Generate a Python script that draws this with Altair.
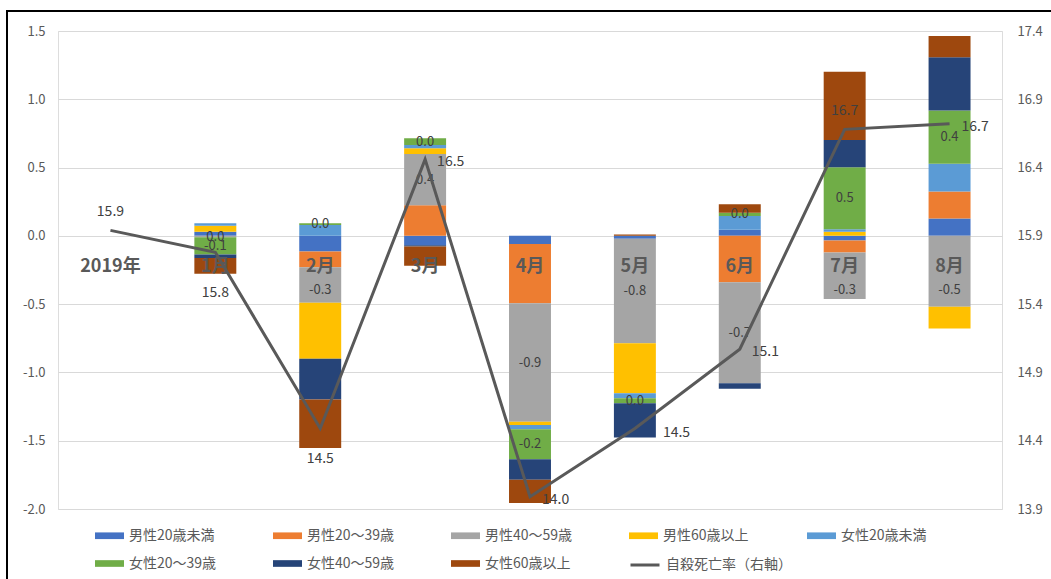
import altair as alt
import pandas as pd

# Categories
months = ["2019年", "1月", "2月", "3月", "4月", "5月", "6月", "7月", "8月"]
bar_months = months[1:]
series = ["男性20歳未満", "男性20～39歳", "男性40～59歳", "男性60歳以上",
          "女性20歳未満", "女性20～39歳", "女性40～59歳", "女性60歳以上"]
rate_name = "自殺死亡率（右軸）"
series_colors = ["#4472C4", "#ED7D31", "#A5A5A5", "#FFC000",
                 "#5B9BD5", "#70AD47", "#264478", "#9E480E"]
rate_color = "#595959"

# Contribution of each group to the change in the rate (Jan–Aug)
m_u20 = [0.03, -0.115, -0.068, -0.06, -0.022, 0.045, -0.034, 0.127]
m_20_39 = [0.0, -0.114, 0.225, -0.434, 0.0, -0.34, -0.088, 0.198]
m_40_59 = [-0.01, -0.26, 0.374, -0.867, -0.764, -0.74, -0.34, -0.52]
m_60 = [0.044, -0.41, 0.042, -0.024, -0.366, 0.0, 0.03, -0.159]
f_u20 = [0.018, 0.08, 0.024, -0.031, -0.037, 0.1, 0.018, 0.203]
f_20_39 = [-0.127, 0.012, 0.049, -0.22, -0.037, 0.024, 0.454, 0.39]
f_40_59 = [-0.025, -0.30, -0.01, -0.15, -0.25, -0.039, 0.2, 0.39]
f_60 = [-0.115, -0.355, -0.14, -0.17, 0.01, 0.062, 0.5, 0.156]
group_values = [m_u20, m_20_39, m_40_59, m_60, f_u20, f_20_39, f_40_59, f_60]

# Suicide rate (right axis)
rate = [15.94, 15.78, 14.49, 16.46, 13.99, 14.49, 15.07, 16.68, 16.72]
rate_label_side = ["above", "low", "below", "right", "right", "far", "right", "above", "right"]

labelled_series = [series[2], series[5]]

FONT = "Noto Sans CJK JP"
TEXT = "#404040"

bars_df = pd.DataFrame(
    [
        {"month": m, "series": s, "order": i, "change": vals[j]}
        for i, (s, vals) in enumerate(zip(series, group_values))
        for j, m in enumerate(bar_months)
    ]
)
rate_df = pd.DataFrame({"month": months, "rate": rate, "side": rate_label_side,
                        "series": [rate_name] * len(months)})
month_df = pd.DataFrame({"month": months})

x_enc = alt.X("month:N", sort=months,
              scale=alt.Scale(domain=months, paddingInner=0.6, paddingOuter=0.3),
              axis=None)

legend_common = dict(
    title=None, labelFont=FONT, labelFontSize=14, labelColor="#595959",
    labelOffset=5,
)

bar_legend = alt.Legend(
    orient="none", legendX=37, legendY=490, columns=5,
    direction="horizontal", gridAlign="all",
    symbolType="M-1,-0.23H1V0.23H-1Z", symbolSize=841, symbolStrokeWidth=0,
    columnPadding=56, rowPadding=6, **legend_common,
)
line_legend = alt.Legend(
    orient="none", legendX=571, legendY=518,
    symbolType="stroke", symbolSize=841, symbolStrokeWidth=3,
    **legend_common,
)

color_enc = alt.Color("series:N",
                      scale=alt.Scale(domain=series, range=series_colors),
                      legend=bar_legend)

stacked = alt.Chart(bars_df).transform_stack(
    stack="change", groupby=["month"], as_=["lo", "hi"],
    sort=[alt.SortField("order", "ascending")], offset="zero",
)

left_axis = alt.Axis(
    values=[-2.0, -1.5, -1.0, -0.5, 0.0, 0.5, 1.0, 1.5],
    labelExpr="replace(format(datum.value, '.1f'), '\u2212', '-')",
    domain=False, ticks=False, grid=True, gridColor="#D9D9D9", gridWidth=1,
    labelFont=FONT, labelFontSize=13, labelColor="#595959", labelPadding=13,
    title=None,
)
y_left = alt.Scale(domain=[-2.0, 1.5], nice=False, zero=False)

bars = stacked.mark_bar().encode(
    x=x_enc,
    y=alt.Y("lo:Q", scale=y_left, axis=left_axis),
    y2="hi:Q",
    color=color_enc,
)

# segment values, centred in the segment but kept clear of the month names
bar_labels = stacked.transform_filter(
    alt.FieldOneOfPredicate(field="series", oneOf=labelled_series)
).transform_calculate(
    mid="(datum.lo + datum.hi) / 2",
    bottom="min(datum.lo, datum.hi)",
).transform_calculate(
    label_y="datum.mid > -0.4 && datum.bottom < -0.45 ? -0.4 : datum.mid",
    lab="abs(datum.change) < 0.05 ? '0.0' : replace(format(datum.change, '.1f'), '\u2212', '-')",
).mark_text(font=FONT, fontSize=13, color=TEXT).encode(
    x=x_enc, y=alt.Y("label_y:Q", scale=y_left), text="lab:N"
)

month_labels = alt.Chart(month_df).mark_text(
    font=FONT, fontSize=18, fontWeight="bold", color="#595959", dy=31
).encode(x=x_enc, y=alt.datum(0, scale=y_left), text="month:N")

left = alt.layer(bars, bar_labels, month_labels)

y_right = alt.Scale(domain=[13.9, 17.4], nice=False, zero=False)
right_axis = alt.Axis(
    orient="right", values=[13.9, 14.4, 14.9, 15.4, 15.9, 16.4, 16.9, 17.4],
    format=".1f", domain=False, ticks=False, grid=False,
    labelFont=FONT, labelFontSize=13, labelColor="#595959", labelPadding=15,
    title=None,
)

line = alt.Chart(rate_df).mark_line(strokeWidth=3).encode(
    x=x_enc,
    y=alt.Y("rate:Q", scale=y_right, axis=right_axis),
    stroke=alt.Stroke("series:N",
                      scale=alt.Scale(domain=[rate_name], range=[rate_color]),
                      legend=line_legend),
)

rate_text = alt.Chart(rate_df).transform_calculate(
    lab="format(datum.rate, '.1f')"
)
label_style = dict(font=FONT, fontSize=14, color=TEXT)
rate_y = alt.Y("rate:Q", scale=y_right)


def rate_labels(side, **offsets):
    return rate_text.transform_filter(f"datum.side === '{side}'").mark_text(
        **offsets, **label_style).encode(x=x_enc, y=rate_y, text="lab:N")


right = alt.layer(
    line,
    rate_labels("above", dy=-18),
    rate_labels("below", dy=31),
    rate_labels("low", dy=41),
    rate_labels("right", dx=12, dy=3, align="left"),
    rate_labels("far", dx=28, dy=5, align="left"),
)

frame = alt.Chart(pd.DataFrame({"k": [0]})).mark_rect(
    fillOpacity=0, stroke="black", strokeWidth=2
).encode(x=alt.value(-51), x2=alt.value(1010), y=alt.value(-20), y2=alt.value(560))

chart = alt.layer(left, right, frame).resolve_scale(y="independent").properties(
    width=944, height=478,
    padding={"left": 58, "top": 31, "right": 49, "bottom": 70},
    autosize=alt.AutoSizeParams(type="none"),
    background="white",
).configure_view(stroke=None).configure(font=FONT)

chart.save("out.html", embed_options={"renderer": "svg", "actions": False})
